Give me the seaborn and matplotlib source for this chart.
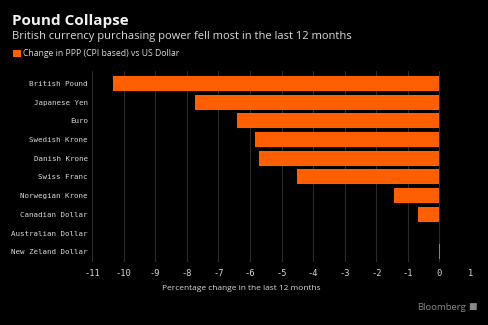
import matplotlib
matplotlib.use("Agg")
import matplotlib.pyplot as plt
import seaborn as sns
import pandas as pd
from matplotlib.patches import Patch

currencies = ["British Pound", "Japanese Yen", "Euro", "Swedish Krone", "Danish Krone",
              "Swiss Franc", "Norwegian Krone", "Canadian Dollar", "Australian Dollar",
              "New Zeland Dollar"]
ppp_change = [-10.34, -7.75, -6.40, -5.83, -5.70, -4.52, -1.45, -0.69, 0.0, 0.03]
x_ticks = list(range(-11, 2))

df = pd.DataFrame({"currency": currencies, "change": ppp_change})

BG = "#000000"
ORANGE = "#FF5F00"
TXT = "#dadada"

sns.set_theme(style="dark")
plt.rcParams["font.family"] = ["Open Sans", "DejaVu Sans"]

fig = plt.figure(figsize=(4.88, 3.25), dpi=100, facecolor=BG)
ax = fig.add_axes([92/488, 1-262/325, 379/488, 191/325])
ax.set_facecolor(BG)

sns.barplot(data=df, x="change", y="currency", orient="h", color=ORANGE,
            saturation=1, width=0.8, ax=ax, order=currencies, linewidth=0)

ax.set_xlim(-11, 1)
ax.set_ylim(9.55, -0.67)
ax.set_xticks(x_ticks)
ax.set_xticklabels([str(t) for t in x_ticks], family="DejaVu Sans Mono", fontsize=6.3, color=TXT)
ax.set_yticklabels(currencies, family="DejaVu Sans Mono", fontsize=5.4, color=TXT)
ax.tick_params(axis="x", length=0, pad=5)
ax.tick_params(axis="y", length=0, pad=3)
ax.grid(axis="x", color="#2b2b2b", linewidth=0.8)
ax.grid(axis="y", visible=False)
ax.set_axisbelow(True)
for s in ax.spines.values():
    s.set_visible(False)
ax.set_ylabel("")
ax.set_xlabel("")

fig.text(241/488, 1-288/325, "Percentage change in the last 12 months", fontsize=6.05,
         color=TXT, ha="center", va="center")
fig.text(12/488, 1-21/325, "Pound Collapse", fontsize=11, fontweight="bold", color="#f2f2f2",
         va="center", ha="left")
fig.text(12/488, 1-37/325, "British currency purchasing power fell most in the last 12 months",
         fontsize=8.0, color=TXT, va="center", ha="left")
fig.legend(handles=[Patch(facecolor=ORANGE, edgecolor="none")],
           labels=["Change in PPP (CPI based) vs US Dollar"],
           loc="center left", bbox_to_anchor=(10/488, 1-54/325), frameon=False,
           fontsize=6.2, labelcolor=TXT, handlelength=0.85, handleheight=1.0,
           handletextpad=0.3, borderaxespad=0)
fig.text(466/488, 1-307/325, "Bloomberg", fontsize=6.8, color="#8a8a8a", ha="right", va="center")
fig.text(477/488, 1-307/325, "\u25a0", fontsize=6.5, color="#8a8a8a", ha="right", va="center")

fig.savefig("out.png", dpi=100, facecolor=BG)
